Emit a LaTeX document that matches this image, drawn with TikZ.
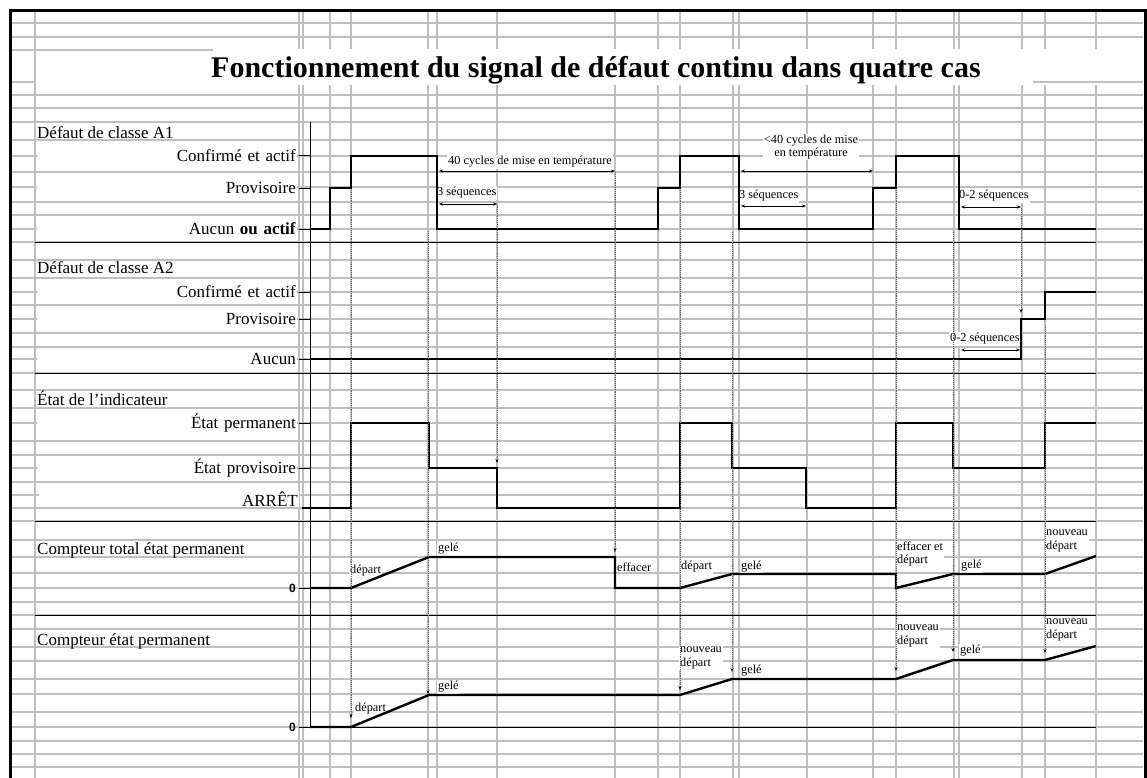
\documentclass[tikz,border=0pt]{standalone}
\usepackage{fontspec}
\setmainfont{Liberation Serif}
\newfontfamily\zerofont{Liberation Sans}
\usetikzlibrary{arrows.meta}

\tikzset{
  cell/.style={black!25, line width=1.2pt},
  seprule/.style={line width=1pt},
  levtick/.style={line width=1pt},
  signal/.style={line width=2.4pt, line join=miter},
  event/.style={densely dotted, black!60, line width=0.9pt, -{Stealth[length=4pt,width=3pt,black]}},
  dimarrow/.style={line width=0.8pt, {Stealth[length=4pt,width=3pt]}-{Stealth[length=4pt,width=3pt]}},
  lvl/.style={anchor=east, fill=white, inner sep=1pt, text width=258pt, align=right, font=\fontsize{17}{20}\selectfont},
  head/.style={anchor=west, inner sep=1pt, font=\fontsize{17}{20}\selectfont},
  note/.style={anchor=west, fill=white, inner sep=1pt, align=left, font=\fontsize{12.3}{13.5}\selectfont},
  zero/.style={anchor=east, inner sep=1pt, font=\zerofont\bfseries\fontsize{12}{14}\selectfont},
}

\begin{document}
\begin{tikzpicture}[x=1pt, y=-1pt]
            \clip (0,0) rectangle (1147,778);
            \fill[white] (0,0) rectangle (1147,778);
            % spreadsheet cells
            \foreach \y in {23,37,95,108,122,140,156,172,187,202,215,229,242,260,278,292,305,319,333,347,359,373,390,408,423,441,455,468,482,495,508,521,540,557,573,588,602,615,629,647,661,679,694,712,727,741,754,767}
              \draw[cell] (9,\y) -- (1143,\y);
            \foreach \x in {35,299,303,330,351,428,437,497,615,658,680,733,739,807,873,896,954,959,1022,1045,1096}
              \draw[cell] (\x,9) -- (\x,778);
            \fill[white] (213,49.4) rectangle (1143,84.6);
            \draw[cell] (9,50) -- (213,50);
            \draw[cell] (9,82) -- (35,82);
            \draw[cell] (1033,82) -- (1143,82);
            \node[font=\fontsize{30}{36}\selectfont\bfseries, anchor=base] (title) at (596,78) {Fonctionnement du signal de défaut continu dans quatre cas};

            % sections
            \draw[seprule] (35,242) -- (1096,242);
            \draw[seprule] (35,373) -- (1096,373);
            \draw[seprule] (35,521) -- (1096,521);
            \draw[seprule] (35,615) -- (1096,615);
            \draw[seprule] (299,727) -- (1096,727);

            % labels
            \node[head] (hA1) at (36,133) {Défaut de classe A1};
            \node[lvl] (a1c) at (297,156) {Confirmé et actif};
            \node[lvl] (a1p) at (297,188) {Provisoire};
            \node[lvl] (a1n) at (297,229) {Aucun \textbf{ou actif}};
            \node[head] (hA2) at (36,268) {Défaut de classe A2};
            \node[lvl] (a2c) at (297,292) {Confirmé et actif};
            \node[lvl] (a2p) at (297,319) {Provisoire};
            \node[lvl] (a2n) at (297,359) {Aucun};
            \node[head] (hInd) at (36,398) {État de l’indicateur};
            \node[lvl] (indp) at (297,423) {État permanent};
            \node[lvl] (indt) at (297,468) {État provisoire};
            \node[lvl] (indo) at (299,499) {ARRÊT};
            \node[head] (hTot) at (36,550) {Compteur total état permanent};
            \node[zero] (z1) at (297,588) {0};
            \node[head] (hCnt) at (36,641) {Compteur état permanent};
            \node[zero] (z2) at (297,727) {0};

            % durations
            \node[note] (d40) at (447,162) {40 cycles de mise en température};
            \node[note] (d3a) at (436,193) {3 séquences};
            \node[note, anchor=center, align=center] (dlt40) at (811,147) {<40 cycles de mise\\en température};
            \node[note] (d3b) at (738,196) {3 séquences};
            \node[note] (d02a) at (958,196) {0-2 séquences};
            \node[note] (d02b) at (949,339) {0-2 séquences};

            % counter notes
            \node[note] (c1a) at (349,571) {départ};
            \node[note] (c1b) at (437,549) {gelé};
            \node[note] (c1c) at (616,567) {effacer};
            \node[note] (c1d) at (680,567) {départ};
            \node[note] (c1e) at (740,567) {gelé};
            \node[note] (c1f) at (896,554) {effacer et\\départ};
            \node[note] (c1g) at (960,566) {gelé};
            \node[note] (c1h) at (1045,541) {nouveau\\départ};
            \node[note] (c2a) at (354,709) {départ};
            \node[note] (c2b) at (437,687) {gelé};
            \node[note] (c2c) at (679,658) {nouveau\\départ};
            \node[note] (c2d) at (740,671) {gelé};
            \node[note] (c2e) at (896,636) {nouveau\\départ};
            \node[note] (c2f) at (959,651) {gelé};
            \node[note] (c2g) at (1045,630) {nouveau\\départ};

            % axis and ticks
            \draw[seprule] (310,122) -- (310,727);
            \foreach \y in {156,188,229,292,319,359,423,468,588,727}
              \draw[levtick] (299,\y) -- (310,\y);

            % signals
            \draw[signal] (310,229) -- (330,229) -- (330,188) -- (351,188) -- (351,156) -- (437,156) -- (437,229) -- (658,229) -- (658,188) -- (680,188) -- (680,156) -- (739,156) -- (739,229) -- (873,229) -- (873,188) -- (896,188) -- (896,156) -- (959,156) -- (959,229) -- (1096,229);
            \draw[signal] (310,359) -- (1021,359) -- (1021,319) -- (1045,319) -- (1045,292) -- (1096,292);
            \draw[signal] (302,508) -- (351,508) -- (351,423) -- (429,423) -- (429,468) -- (497,468) -- (497,508) -- (680,508) -- (680,423) -- (732,423) -- (732,468) -- (806,468) -- (806,508) -- (896,508) -- (896,423) -- (953,423) -- (953,468) -- (1045,468) -- (1045,423) -- (1096,423);
            \draw[signal] (310,588) -- (351,588) -- (429,557) -- (615,557) -- (615,588) -- (680,588) -- (732,574) -- (896,574) -- (896,588) -- (953,574) -- (1045,574) -- (1096,556);
            \draw[signal] (310,727) -- (351,727) -- (429,695) -- (680,695) -- (732,679) -- (896,679) -- (953,660) -- (1045,660) -- (1096,646);

            % events
            \draw[event] (351,190) -- (351,718);
            \draw[event] (428,231) -- (428,694);
            \draw[event] (497,205) -- (497,463);
            \draw[event] (615,172) -- (615,552);
            \draw[event] (680,190) -- (680,690);
            \draw[event] (732,232) -- (732,672);
            \draw[event] (896,190) -- (896,671);
            \draw[event] (953,232) -- (953,652);
            \draw[event] (1021,208) -- (1021,313);
            \draw[event] (1045,325) -- (1045,653);

            % durations arrows
            \draw[dimarrow] (439,171) -- (615,171);
            \draw[dimarrow] (439,204) -- (497,204);
            \draw[dimarrow] (741,171) -- (873,171);
            \draw[dimarrow] (741,206) -- (806,206);
            \draw[dimarrow] (961,207) -- (1021,207);
            \draw[dimarrow] (961,350) -- (1020,350);

            % frame
            \draw[line width=3pt] (10.3,10.3) rectangle (1145,800);
        \end{tikzpicture}
\end{document}
